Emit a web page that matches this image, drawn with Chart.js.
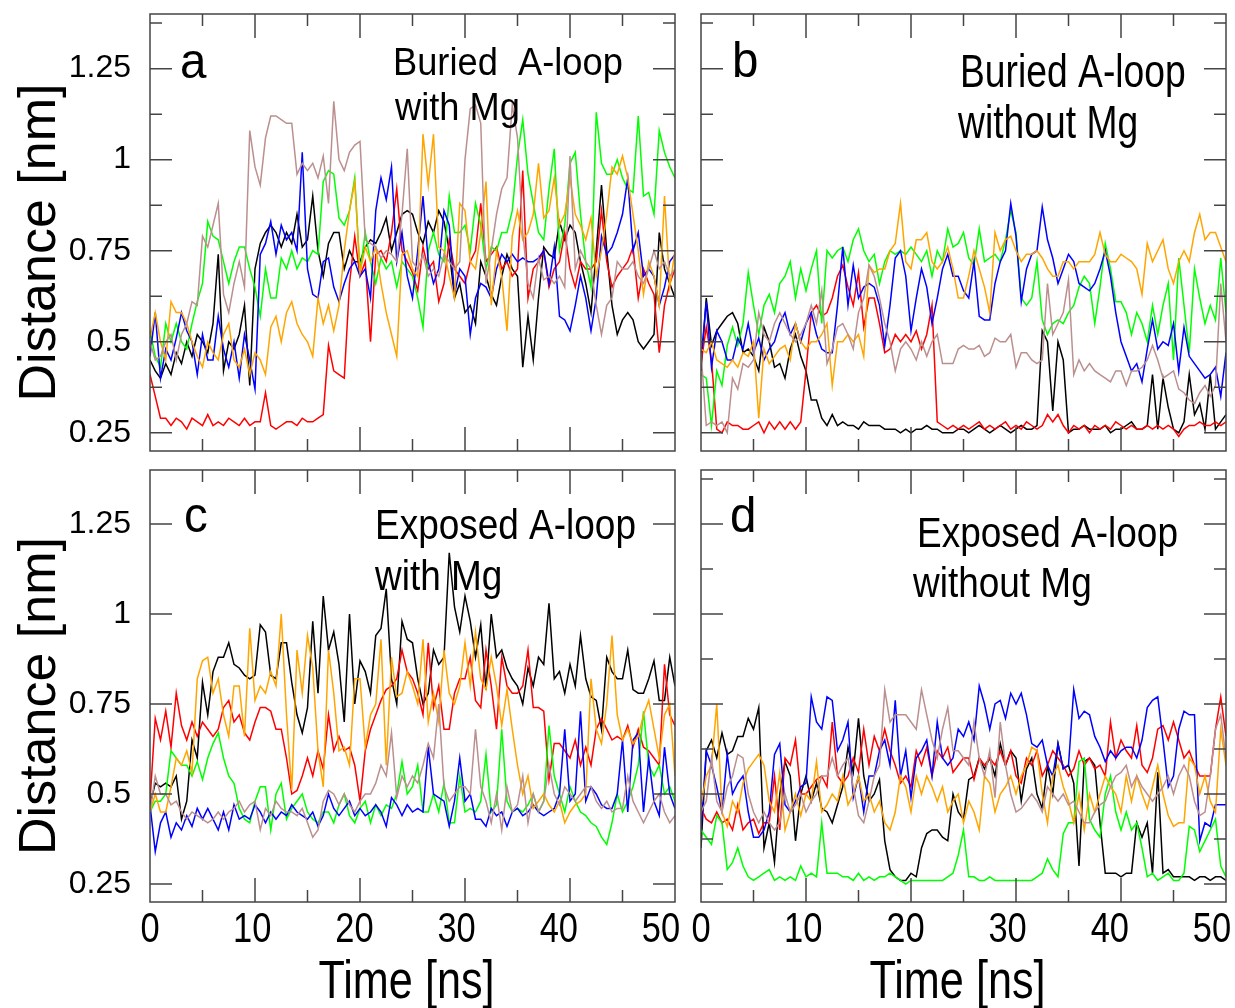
<!DOCTYPE html>
<html>
<head>
<meta charset="utf-8">
<script src="https://cdn.jsdelivr.net/npm/chart.js@4.4.1/dist/chart.umd.min.js"></script>
<style>
  html, body { margin: 0; padding: 0; background: #fff; }
  #wrap { position: relative; width: 1235px; height: 1008px; overflow: hidden; }
  canvas { position: absolute; }
</style>
</head>
<body>
<div id="wrap">
  <canvas id="panelA" width="700" height="460" style="left:0;top:0"></canvas>
  <canvas id="panelB" width="555" height="460" style="left:680px;top:0"></canvas>
  <canvas id="panelC" width="700" height="548" style="left:0;top:460px"></canvas>
  <canvas id="panelD" width="555" height="548" style="left:680px;top:460px"></canvas>
</div>
<script>
// time axis, ns (one sample every 0.5 ns)
const timeNs = [0, 0.5, 1, 1.5, 2, 2.5, 3, 3.5, 4, 4.5,
  5, 5.5, 6, 6.5, 7, 7.5, 8, 8.5, 9, 9.5,
  10, 10.5, 11, 11.5, 12, 12.5, 13, 13.5, 14, 14.5,
  15, 15.5, 16, 16.5, 17, 17.5, 18, 18.5, 19, 19.5,
  20, 20.5, 21, 21.5, 22, 22.5, 23, 23.5, 24, 24.5,
  25, 25.5, 26, 26.5, 27, 27.5, 28, 28.5, 29, 29.5,
  30, 30.5, 31, 31.5, 32, 32.5, 33, 33.5, 34, 34.5,
  35, 35.5, 36, 36.5, 37, 37.5, 38, 38.5, 39, 39.5,
  40, 40.5, 41, 41.5, 42, 42.5, 43, 43.5, 44, 44.5,
  45, 45.5, 46, 46.5, 47, 47.5, 48, 48.5, 49, 49.5,
  50];

const xMajor = [0, 10, 20, 30, 40, 50];
const xMinor = [5, 15, 25, 35, 45];
const yMajor = [0.25, 0.5, 0.75, 1, 1.25];
const yMinor = [0.375, 0.625, 0.875, 1.125, 1.375];

// panel a: buried A-loop with Mg
const aBlack = [0.45, 0.42, 0.40, 0.44, 0.41, 0.47, 0.44, 0.50, 0.46, 0.52,
  0.50, 0.47, 0.55, 0.74, 0.42, 0.50, 0.48, 0.52, 0.60, 0.38,
  0.70, 0.77, 0.80, 0.82, 0.80, 0.76, 0.80, 0.77, 0.85, 0.76,
  0.78, 0.90, 0.75, 0.68, 0.77, 0.80, 0.80, 0.70, 0.75, 0.72,
  0.72, 0.76, 0.78, 0.77, 0.80, 0.84, 0.75, 0.80, 0.85, 0.86,
  0.85, 0.80, 0.77, 0.83, 0.80, 0.86, 0.83, 0.75, 0.62, 0.66,
  0.58, 0.60, 0.55, 0.72, 0.68, 0.63, 0.60, 0.68, 0.74, 0.70,
  0.68, 0.43, 0.57, 0.45, 0.62, 0.76, 0.74, 0.73, 0.83, 0.78,
  0.82, 0.80, 0.72, 0.66, 0.58, 0.75, 0.93, 0.75, 0.60, 0.52,
  0.56, 0.58, 0.56, 0.50, 0.48, 0.50, 0.52, 0.80, 0.70, 0.66,
  0.62];
const aRed = [0.41, 0.35, 0.29, 0.29, 0.27, 0.29, 0.28, 0.26, 0.29, 0.28,
  0.27, 0.30, 0.27, 0.28, 0.27, 0.29, 0.28, 0.27, 0.29, 0.27,
  0.28, 0.28, 0.36, 0.27, 0.26, 0.27, 0.28, 0.28, 0.27, 0.29,
  0.28, 0.28, 0.29, 0.30, 0.49, 0.42, 0.41, 0.40, 0.66, 0.79,
  0.68, 0.72, 0.50, 0.74, 0.75, 0.72, 0.80, 0.92, 0.75, 0.72,
  0.69, 0.64, 0.76, 0.70, 0.72, 0.61, 0.66, 0.78, 0.70, 0.68,
  0.66, 0.72, 0.75, 0.88, 0.72, 0.74, 0.76, 0.70, 0.72, 0.68,
  0.70, 0.97, 0.62, 0.70, 0.72, 0.75, 0.65, 0.70, 0.72, 0.80,
  0.70, 0.65, 0.72, 0.70, 0.70, 0.72, 0.86, 0.72, 0.65, 0.68,
  0.70, 0.72, 0.76, 0.62, 0.70, 0.66, 0.63, 0.47, 0.60, 0.66,
  0.70];
const aGreen = [0.53, 0.46, 0.43, 0.55, 0.50, 0.55, 0.50, 0.48, 0.55, 0.61,
  0.66, 0.83, 0.79, 0.78, 0.72, 0.66, 0.72, 0.76, 0.76, 0.70,
  0.65, 0.57, 0.70, 0.62, 0.62, 0.73, 0.70, 0.75, 0.70, 0.73,
  0.72, 0.75, 0.74, 0.94, 0.97, 0.96, 0.84, 0.82, 0.86, 0.95,
  0.69, 0.80, 0.72, 0.66, 0.73, 0.70, 0.72, 0.65, 0.72, 0.70,
  0.68, 0.62, 0.54, 0.75, 0.80, 0.74, 0.72, 0.90, 0.80, 0.80,
  0.82, 0.75, 0.88, 0.82, 0.70, 0.76, 0.75, 0.80, 0.80, 0.86,
  1.01, 1.11, 0.96, 0.88, 0.80, 0.78, 0.92, 1.03, 0.75, 0.82,
  0.99, 1.02, 0.85, 0.72, 0.65, 1.13, 0.99, 0.96, 0.96, 1.00,
  0.95, 0.92, 0.91, 1.12, 0.90, 0.91, 0.85, 1.08, 1.02, 0.98,
  0.95];
const aBlue = [0.46, 0.58, 0.40, 0.48, 0.45, 0.51, 0.58, 0.53, 0.50, 0.41,
  0.52, 0.45, 0.45, 0.57, 0.48, 0.43, 0.50, 0.40, 0.52, 0.45,
  0.37, 0.74, 0.77, 0.83, 0.74, 0.82, 0.78, 0.80, 0.75, 1.02,
  0.70, 0.63, 0.62, 0.72, 0.73, 0.65, 0.61, 0.66, 0.70, 0.72,
  0.68, 0.70, 0.62, 0.86, 0.95, 0.89, 0.98, 0.72, 0.80, 0.68,
  0.62, 0.75, 0.90, 0.72, 0.66, 0.70, 0.86, 0.82, 0.63, 0.70,
  0.68, 0.52, 0.62, 0.66, 0.65, 0.62, 0.70, 0.74, 0.72, 0.74,
  0.72, 0.73, 0.72, 0.72, 0.73, 0.75, 0.66, 0.76, 0.57, 0.56,
  0.53, 0.60, 0.68, 0.62, 0.53, 0.62, 0.79, 0.74, 0.76, 0.80,
  0.85, 0.95, 0.75, 0.80, 0.68, 0.70, 0.68, 0.60, 0.65, 0.72,
  0.74];
const aOrange = [0.51, 0.58, 0.50, 0.45, 0.61, 0.58, 0.58, 0.55, 0.50, 0.46,
  0.43, 0.50, 0.47, 0.45, 0.52, 0.55, 0.45, 0.43, 0.48, 0.41,
  0.47, 0.45, 0.41, 0.54, 0.57, 0.50, 0.58, 0.61, 0.55, 0.52,
  0.50, 0.46, 0.62, 0.55, 0.60, 0.53, 0.60, 0.75, 0.86, 0.94,
  0.69, 0.76, 0.72, 0.76, 0.66, 0.58, 0.52, 0.46, 0.74, 0.75,
  0.70, 0.68, 1.07, 0.93, 1.07, 0.76, 0.75, 0.68, 0.62, 0.88,
  0.86, 0.72, 0.70, 0.80, 0.94, 0.60, 0.75, 0.68, 0.53, 0.79,
  0.86, 0.78, 0.80, 0.85, 0.99, 0.84, 0.86, 0.95, 0.82, 0.85,
  0.95, 0.85, 0.82, 0.78, 0.84, 0.68, 0.75, 0.85, 0.98, 0.96,
  1.01, 0.95, 0.85, 0.75, 0.63, 0.72, 0.68, 0.60, 0.90, 0.65,
  0.75];
const aBrown = [0.50, 0.45, 0.46, 0.50, 0.52, 0.45, 0.52, 0.55, 0.61, 0.60,
  0.79, 0.76, 0.82, 0.88, 0.63, 0.58, 0.66, 0.72, 0.65, 1.08,
  0.98, 0.93, 1.06, 1.12, 1.12, 1.11, 1.10, 1.10, 0.96, 0.99,
  0.97, 0.99, 0.95, 1.01, 0.88, 1.16, 1.00, 0.97, 1.02, 1.04,
  1.05, 0.78, 0.77, 0.76, 0.73, 0.75, 0.74, 0.72, 0.85, 1.03,
  0.72, 0.70, 0.74, 0.68, 0.70, 0.68, 0.74, 0.72, 0.70, 0.72,
  1.00, 1.14, 1.15, 1.10, 0.66, 0.75, 0.85, 0.92, 0.95, 1.15,
  1.06, 0.80, 0.66, 0.62, 0.73, 0.67, 0.68, 0.66, 0.68, 0.65,
  1.01, 0.70, 0.75, 0.72, 0.70, 0.60, 0.52, 0.60, 0.62, 0.72,
  0.70, 0.70, 0.72, 0.68, 0.66, 0.70, 0.75, 0.70, 0.72, 0.68,
  0.70];

// panel b: buried A-loop without Mg
const bBlack = [0.42, 0.62, 0.49, 0.53, 0.55, 0.57, 0.58, 0.55, 0.47, 0.48,
  0.46, 0.42, 0.54, 0.50, 0.43, 0.44, 0.40, 0.48, 0.52, 0.46,
  0.42, 0.34, 0.34, 0.29, 0.27, 0.30, 0.27, 0.28, 0.27, 0.27,
  0.26, 0.28, 0.27, 0.27, 0.27, 0.26, 0.26, 0.26, 0.25, 0.26,
  0.25, 0.26, 0.26, 0.27, 0.26, 0.26, 0.25, 0.25, 0.25, 0.26,
  0.26, 0.25, 0.26, 0.27, 0.26, 0.25, 0.26, 0.27, 0.26, 0.25,
  0.26, 0.27, 0.26, 0.26, 0.27, 0.53, 0.50, 0.31, 0.50, 0.45,
  0.25, 0.26, 0.26, 0.27, 0.26, 0.26, 0.26, 0.27, 0.25, 0.26,
  0.26, 0.27, 0.28, 0.26, 0.26, 0.27, 0.41, 0.26, 0.40, 0.32,
  0.26, 0.25, 0.28, 0.41, 0.30, 0.33, 0.26, 0.41, 0.26, 0.28,
  0.30];
const bRed = [0.44, 0.54, 0.45, 0.26, 0.25, 0.28, 0.27, 0.27, 0.26, 0.26,
  0.27, 0.28, 0.25, 0.28, 0.26, 0.28, 0.26, 0.28, 0.26, 0.28,
  0.42, 0.58, 0.60, 0.57, 0.58, 0.62, 0.68, 0.71, 0.65, 0.60,
  0.69, 0.54, 0.62, 0.62, 0.55, 0.47, 0.48, 0.52, 0.50, 0.52,
  0.50, 0.53, 0.48, 0.52, 0.60, 0.28, 0.27, 0.26, 0.27, 0.26,
  0.27, 0.26, 0.27, 0.28, 0.26, 0.27, 0.26, 0.27, 0.28, 0.26,
  0.27, 0.26, 0.28, 0.27, 0.26, 0.27, 0.30, 0.28, 0.30, 0.27,
  0.25, 0.27, 0.26, 0.27, 0.25, 0.27, 0.26, 0.27, 0.26, 0.28,
  0.27, 0.26, 0.27, 0.26, 0.26, 0.27, 0.26, 0.27, 0.26, 0.27,
  0.26, 0.24, 0.26, 0.27, 0.27, 0.28, 0.27, 0.27, 0.28, 0.27,
  0.28];
const bGreen = [0.41, 0.40, 0.27, 0.42, 0.38, 0.49, 0.54, 0.49, 0.55, 0.69,
  0.60, 0.52, 0.60, 0.63, 0.58, 0.66, 0.68, 0.72, 0.62, 0.70,
  0.64, 0.70, 0.75, 0.55, 0.75, 0.73, 0.75, 0.76, 0.72, 0.78,
  0.81, 0.75, 0.72, 0.74, 0.66, 0.72, 0.75, 0.74, 0.75, 0.74,
  0.76, 0.74, 0.72, 0.75, 0.68, 0.75, 0.72, 0.81, 0.76, 0.77,
  0.80, 0.73, 0.71, 0.81, 0.72, 0.73, 0.74, 0.72, 0.78, 0.86,
  0.80, 0.62, 0.60, 0.62, 0.72, 0.56, 0.52, 0.55, 0.56, 0.55,
  0.58, 0.60, 0.65, 0.68, 0.66, 0.55, 0.65, 0.77, 0.70, 0.61,
  0.61, 0.58, 0.52, 0.58, 0.55, 0.50, 0.60, 0.52, 0.60, 0.66,
  0.45, 0.73, 0.60, 0.47, 0.70, 0.62, 0.55, 0.60, 0.56, 0.73,
  0.58];
const bBlue = [0.45, 0.61, 0.43, 0.53, 0.50, 0.45, 0.45, 0.51, 0.48, 0.55,
  0.47, 0.51, 0.45, 0.48, 0.50, 0.55, 0.58, 0.52, 0.55, 0.50,
  0.55, 0.58, 0.52, 0.48, 0.47, 0.47, 0.60, 0.76, 0.60, 0.71,
  0.62, 0.65, 0.66, 0.65, 0.60, 0.49, 0.60, 0.73, 0.75, 0.68,
  0.53, 0.62, 0.70, 0.65, 0.55, 0.62, 0.70, 0.74, 0.68, 0.68,
  0.64, 0.62, 0.72, 0.57, 0.56, 0.56, 0.66, 0.72, 0.75, 0.88,
  0.79, 0.61, 0.70, 0.74, 0.75, 0.87, 0.78, 0.73, 0.66, 0.70,
  0.74, 0.72, 0.66, 0.65, 0.64, 0.66, 0.70, 0.75, 0.68, 0.58,
  0.50, 0.46, 0.42, 0.44, 0.39, 0.48, 0.56, 0.48, 0.50, 0.49,
  0.55, 0.42, 0.54, 0.46, 0.44, 0.42, 0.40, 0.41, 0.43, 0.35,
  0.47];
const bOrange = [0.48, 0.47, 0.50, 0.45, 0.44, 0.43, 0.45, 0.43, 0.47, 0.46,
  0.50, 0.29, 0.48, 0.44, 0.46, 0.48, 0.49, 0.45, 0.55, 0.50,
  0.48, 0.50, 0.50, 0.52, 0.55, 0.38, 0.50, 0.50, 0.52, 0.50,
  0.52, 0.46, 0.71, 0.69, 0.70, 0.70, 0.75, 0.77, 0.88, 0.72,
  0.70, 0.78, 0.78, 0.80, 0.72, 0.70, 0.72, 0.76, 0.70, 0.62,
  0.62, 0.68, 0.75, 0.70, 0.65, 0.58, 0.80, 0.75, 0.78, 0.79,
  0.75, 0.72, 0.74, 0.74, 0.75, 0.73, 0.70, 0.68, 0.68, 0.72,
  0.72, 0.70, 0.72, 0.72, 0.72, 0.74, 0.80, 0.74, 0.72, 0.72,
  0.74, 0.73, 0.72, 0.70, 0.63, 0.77, 0.72, 0.75, 0.78, 0.70,
  0.66, 0.72, 0.75, 0.72, 0.80, 0.85, 0.78, 0.80, 0.80, 0.76,
  0.72];
const bBrown = [0.47, 0.27, 0.28, 0.27, 0.28, 0.25, 0.40, 0.37, 0.44, 0.43,
  0.45, 0.58, 0.52, 0.50, 0.55, 0.58, 0.55, 0.52, 0.50, 0.52,
  0.55, 0.60, 0.55, 0.64, 0.44, 0.48, 0.54, 0.55, 0.52, 0.48,
  0.58, 0.62, 0.71, 0.68, 0.62, 0.55, 0.50, 0.42, 0.48, 0.50,
  0.48, 0.45, 0.50, 0.46, 0.50, 0.52, 0.44, 0.44, 0.44, 0.48,
  0.49, 0.48, 0.48, 0.49, 0.46, 0.47, 0.51, 0.50, 0.50, 0.52,
  0.43, 0.47, 0.47, 0.45, 0.44, 0.45, 0.66, 0.52, 0.55, 0.58,
  0.67, 0.41, 0.45, 0.42, 0.44, 0.42, 0.41, 0.40, 0.39, 0.42,
  0.42, 0.38, 0.42, 0.42, 0.43, 0.45, 0.49, 0.45, 0.40, 0.41,
  0.42, 0.37, 0.36, 0.34, 0.33, 0.36, 0.38, 0.35, 0.38, 0.66,
  0.50];

// panel c: exposed A-loop with Mg
const cBlack = [0.47, 0.53, 0.52, 0.53, 0.52, 0.55, 0.43, 0.48, 0.65, 0.60,
  0.81, 0.72, 0.84, 0.88, 0.88, 0.92, 0.86, 0.85, 0.83, 0.82,
  0.83, 0.97, 0.95, 0.83, 0.82, 0.92, 0.92, 0.81, 0.72, 0.67,
  0.74, 0.98, 0.78, 1.05, 0.90, 0.95, 0.86, 0.70, 1.00, 0.75,
  0.87, 0.84, 0.78, 0.94, 0.96, 1.07, 0.82, 0.75, 0.98, 0.93,
  0.92, 0.82, 0.75, 0.78, 0.90, 0.86, 0.88, 1.17, 1.02, 0.95,
  1.05, 0.98, 0.88, 0.97, 0.79, 1.00, 0.88, 0.90, 0.85, 0.82,
  0.80, 0.75, 0.85, 0.80, 0.88, 0.86, 1.03, 0.82, 0.84, 0.78,
  0.86, 0.80, 0.94, 0.82, 0.77, 0.76, 0.68, 0.88, 0.84, 0.82,
  0.82, 0.90, 0.79, 0.78, 0.78, 0.82, 0.87, 0.76, 0.76, 0.88,
  0.80];
const cRed = [0.48, 0.71, 0.65, 0.73, 0.63, 0.78, 0.69, 0.65, 0.70, 0.66,
  0.70, 0.68, 0.66, 0.68, 0.74, 0.76, 0.70, 0.72, 0.67, 0.65,
  0.70, 0.74, 0.74, 0.73, 0.68, 0.68, 0.60, 0.50, 0.51, 0.55,
  0.60, 0.55, 0.62, 0.57, 0.72, 0.62, 0.66, 0.62, 0.63, 0.58,
  0.48, 0.62, 0.68, 0.72, 0.76, 0.79, 0.80, 0.82, 0.90, 0.84,
  0.82, 0.78, 0.72, 0.92, 0.74, 0.80, 0.68, 0.68, 0.78, 0.82,
  0.82, 0.88, 0.76, 0.74, 0.90, 0.80, 0.68, 0.88, 0.80, 0.78,
  0.78, 0.80, 0.90, 0.74, 0.74, 0.73, 0.54, 0.64, 0.64, 0.62,
  0.60, 0.65, 0.58, 0.63, 0.58, 0.68, 0.71, 0.68, 0.65, 0.66,
  0.65, 0.69, 0.63, 0.68, 0.63, 0.62, 0.60, 0.58, 0.86, 0.72,
  0.69];
const cGreen = [0.45, 0.48, 0.48, 0.50, 0.62, 0.60, 0.58, 0.58, 0.55, 0.59,
  0.54, 0.60, 0.64, 0.67, 0.60, 0.55, 0.53, 0.46, 0.43, 0.42,
  0.48, 0.52, 0.52, 0.40, 0.50, 0.53, 0.43, 0.46, 0.48, 0.50,
  0.45, 0.43, 0.42, 0.45, 0.45, 0.42, 0.47, 0.50, 0.44, 0.42,
  0.46, 0.48, 0.42, 0.47, 0.44, 0.47, 0.46, 0.50, 0.59, 0.50,
  0.52, 0.58, 0.45, 0.45, 0.50, 0.45, 0.53, 0.42, 0.42, 0.55,
  0.45, 0.46, 0.45, 0.48, 0.61, 0.45, 0.47, 0.68, 0.48, 0.45,
  0.46, 0.45, 0.47, 0.50, 0.45, 0.48, 0.69, 0.55, 0.50, 0.45,
  0.52, 0.48, 0.45, 0.44, 0.42, 0.41, 0.38, 0.36, 0.42, 0.50,
  0.45, 0.48, 0.52, 0.58, 0.73, 0.58, 0.55, 0.58, 0.50, 0.52,
  0.48];
const cBlue = [0.47, 0.34, 0.42, 0.45, 0.38, 0.42, 0.40, 0.44, 0.41, 0.46,
  0.43, 0.46, 0.43, 0.40, 0.45, 0.40, 0.47, 0.43, 0.44, 0.43,
  0.47, 0.45, 0.42, 0.45, 0.43, 0.45, 0.44, 0.47, 0.45, 0.44,
  0.43, 0.45, 0.41, 0.44, 0.50, 0.46, 0.44, 0.46, 0.48, 0.44,
  0.46, 0.44, 0.45, 0.47, 0.45, 0.41, 0.49, 0.47, 0.44, 0.47,
  0.45, 0.46, 0.45, 0.63, 0.50, 0.49, 0.48, 0.41, 0.48, 0.60,
  0.48, 0.50, 0.43, 0.43, 0.41, 0.46, 0.44, 0.45, 0.41, 0.45,
  0.46, 0.44, 0.45, 0.47, 0.45, 0.44, 0.45, 0.46, 0.50, 0.68,
  0.48, 0.50, 0.73, 0.48, 0.52, 0.50, 0.47, 0.46, 0.46, 0.50,
  0.65, 0.45, 0.65, 0.67, 0.45, 0.60, 0.48, 0.44, 0.63, 0.50,
  0.46];
const cOrange = [0.45, 0.50, 0.45, 0.45, 0.52, 0.60, 0.58, 0.62, 0.56, 0.82,
  0.87, 0.88, 0.78, 0.82, 0.72, 0.66, 0.80, 0.80, 0.66, 0.96,
  0.76, 0.80, 0.78, 0.84, 0.80, 1.00, 0.72, 0.51, 0.90, 0.78,
  0.94, 0.85, 0.62, 0.52, 0.90, 0.78, 0.62, 0.63, 0.58, 0.82,
  0.82, 0.63, 0.72, 0.75, 0.93, 0.58, 0.88, 0.77, 0.78, 0.84,
  0.80, 0.75, 0.93, 0.70, 0.78, 0.70, 0.90, 0.78, 0.75, 0.80,
  0.92, 0.80, 0.95, 0.82, 0.79, 0.88, 0.80, 0.69, 0.79, 0.68,
  0.58, 0.50, 0.55, 0.46, 0.48, 0.50, 0.47, 0.45, 0.48, 0.42,
  0.45, 0.47, 0.48, 0.50, 0.82, 0.68, 0.64, 0.75, 0.94, 0.72,
  0.65, 0.68, 0.64, 0.66, 0.72, 0.76, 0.68, 0.60, 0.72, 0.75,
  0.55];
const cBrown = [0.45, 0.55, 0.50, 0.50, 0.47, 0.48, 0.45, 0.43, 0.45, 0.44,
  0.43, 0.42, 0.43, 0.45, 0.43, 0.45, 0.46, 0.48, 0.45, 0.47,
  0.48, 0.40, 0.46, 0.44, 0.48, 0.46, 0.45, 0.45, 0.44, 0.46,
  0.42, 0.38, 0.40, 0.48, 0.51, 0.50, 0.47, 0.50, 0.47, 0.45,
  0.48, 0.50, 0.50, 0.53, 0.58, 0.55, 0.67, 0.49, 0.55, 0.52,
  0.55, 0.53, 0.58, 0.64, 0.60, 0.75, 0.52, 0.48, 0.50, 0.52,
  0.52, 0.50, 0.68, 0.52, 0.48, 0.42, 0.50, 0.40, 0.52, 0.45,
  0.47, 0.55, 0.42, 0.50, 0.45, 0.48, 0.58, 0.50, 0.47, 0.52,
  0.50, 0.48, 0.50, 0.52, 0.52, 0.48, 0.46, 0.48, 0.45, 0.46,
  0.46, 0.55, 0.48, 0.45, 0.42, 0.45, 0.48, 0.50, 0.45, 0.42,
  0.44];

// panel d: exposed A-loop without Mg
const dBlack = [0.35, 0.62, 0.65, 0.60, 0.67, 0.61, 0.62, 0.66, 0.66, 0.71,
  0.68, 0.74, 0.35, 0.42, 0.31, 0.50, 0.59, 0.55, 0.37, 0.50,
  0.55, 0.48, 0.53, 0.46, 0.45, 0.42, 0.47, 0.52, 0.63, 0.56,
  0.71, 0.55, 0.48, 0.50, 0.54, 0.37, 0.29, 0.27, 0.26, 0.26,
  0.28, 0.27, 0.35, 0.39, 0.40, 0.40, 0.38, 0.37, 0.50, 0.45,
  0.43, 0.54, 0.55, 0.60, 0.57, 0.60, 0.55, 0.64, 0.58, 0.62,
  0.60, 0.48, 0.57, 0.60, 0.50, 0.46, 0.58, 0.50, 0.64, 0.57,
  0.58, 0.53, 0.30, 0.59, 0.60, 0.58, 0.42, 0.28, 0.28, 0.28,
  0.27, 0.28, 0.28, 0.42, 0.38, 0.42, 0.28, 0.56, 0.28, 0.29,
  0.27, 0.27, 0.27, 0.27, 0.26, 0.27, 0.27, 0.26, 0.27, 0.27,
  0.26];
const dRed = [0.46, 0.43, 0.42, 0.45, 0.42, 0.43, 0.40, 0.47, 0.40, 0.42,
  0.43, 0.39, 0.42, 0.42, 0.55, 0.40, 0.60, 0.58, 0.65, 0.50,
  0.50, 0.52, 0.54, 0.55, 0.52, 0.70, 0.55, 0.53, 0.55, 0.60,
  0.56, 0.68, 0.58, 0.66, 0.62, 0.68, 0.62, 0.58, 0.53, 0.55,
  0.52, 0.62, 0.58, 0.63, 0.55, 0.62, 0.60, 0.63, 0.56, 0.58,
  0.60, 0.60, 0.54, 0.60, 0.58, 0.60, 0.58, 0.62, 0.58, 0.62,
  0.55, 0.53, 0.60, 0.58, 0.62, 0.55, 0.58, 0.62, 0.60, 0.58,
  0.55, 0.57, 0.62, 0.58, 0.60, 0.57, 0.58, 0.55, 0.70, 0.60,
  0.65, 0.62, 0.60, 0.69, 0.58, 0.56, 0.60, 0.68, 0.69, 0.65,
  0.70, 0.65, 0.60, 0.62, 0.58, 0.55, 0.55, 0.55, 0.68, 0.77,
  0.66];
const dGreen = [0.40, 0.38, 0.36, 0.44, 0.42, 0.29, 0.31, 0.35, 0.30, 0.27,
  0.26, 0.27, 0.28, 0.29, 0.26, 0.27, 0.26, 0.27, 0.26, 0.30,
  0.27, 0.28, 0.27, 0.42, 0.28, 0.28, 0.28, 0.27, 0.27, 0.26,
  0.28, 0.26, 0.27, 0.26, 0.27, 0.27, 0.28, 0.27, 0.26, 0.25,
  0.26, 0.26, 0.26, 0.26, 0.26, 0.26, 0.26, 0.27, 0.28, 0.33,
  0.40, 0.27, 0.27, 0.26, 0.26, 0.27, 0.26, 0.26, 0.26, 0.26,
  0.26, 0.26, 0.26, 0.26, 0.27, 0.28, 0.32, 0.29, 0.27, 0.39,
  0.42, 0.42, 0.59, 0.60, 0.43, 0.40, 0.38, 0.50, 0.55, 0.45,
  0.40, 0.45, 0.40, 0.42, 0.35, 0.27, 0.28, 0.26, 0.27, 0.28,
  0.26, 0.26, 0.28, 0.41, 0.40, 0.34, 0.37, 0.40, 0.43, 0.30,
  0.27];
const dBlue = [0.40, 0.62, 0.58, 0.52, 0.45, 0.61, 0.50, 0.53, 0.55, 0.45,
  0.38, 0.38, 0.40, 0.45, 0.61, 0.64, 0.47, 0.45, 0.48, 0.52,
  0.53, 0.77, 0.70, 0.68, 0.77, 0.76, 0.62, 0.65, 0.70, 0.49,
  0.55, 0.45, 0.55, 0.55, 0.62, 0.65, 0.58, 0.76, 0.55, 0.62,
  0.49, 0.60, 0.62, 0.65, 0.55, 0.70, 0.60, 0.58, 0.60, 0.68,
  0.66, 0.70, 0.65, 0.80, 0.75, 0.68, 0.75, 0.76, 0.71, 0.78,
  0.75, 0.78, 0.72, 0.64, 0.63, 0.65, 0.58, 0.55, 0.64, 0.57,
  0.58, 0.79, 0.71, 0.73, 0.72, 0.66, 0.63, 0.59, 0.62, 0.60,
  0.62, 0.63, 0.63, 0.60, 0.65, 0.74, 0.76, 0.77, 0.65, 0.52,
  0.55, 0.68, 0.73, 0.72, 0.72, 0.37, 0.42, 0.41, 0.47, 0.47,
  0.47];
const dOrange = [0.47, 0.55, 0.58, 0.75, 0.45, 0.41, 0.48, 0.45, 0.53, 0.57,
  0.59, 0.61, 0.58, 0.48, 0.45, 0.56, 0.40, 0.45, 0.50, 0.44,
  0.50, 0.48, 0.59, 0.45, 0.47, 0.50, 0.48, 0.55, 0.47, 0.50,
  0.55, 0.48, 0.50, 0.45, 0.48, 0.42, 0.40, 0.45, 0.55, 0.52,
  0.45, 0.55, 0.50, 0.55, 0.52, 0.48, 0.52, 0.45, 0.48, 0.50,
  0.42, 0.48, 0.45, 0.40, 0.55, 0.53, 0.45, 0.50, 0.52, 0.55,
  0.50, 0.55, 0.58, 0.63, 0.62, 0.50, 0.42, 0.55, 0.58, 0.52,
  0.48, 0.42, 0.50, 0.40, 0.50, 0.45, 0.50, 0.55, 0.52, 0.50,
  0.45, 0.55, 0.48, 0.55, 0.50, 0.46, 0.52, 0.58, 0.50, 0.44,
  0.41, 0.42, 0.42, 0.60, 0.58, 0.50, 0.55, 0.48, 0.45, 0.68,
  0.58];
const dBrown = [0.45, 0.48, 0.60, 0.48, 0.45, 0.52, 0.55, 0.61, 0.60, 0.50,
  0.45, 0.42, 0.45, 0.42, 0.40, 0.42, 0.50, 0.45, 0.47, 0.50,
  0.45, 0.48, 0.50, 0.55, 0.55, 0.60, 0.55, 0.58, 0.60, 0.52,
  0.44, 0.42, 0.48, 0.55, 0.58, 0.79, 0.70, 0.72, 0.72, 0.72,
  0.70, 0.68, 0.79, 0.72, 0.65, 0.60, 0.68, 0.74, 0.62, 0.62,
  0.60, 0.58, 0.70, 0.60, 0.55, 0.62, 0.49, 0.70, 0.58, 0.50,
  0.45, 0.46, 0.48, 0.50, 0.48, 0.45, 0.52, 0.50, 0.48, 0.50,
  0.47, 0.48, 0.45, 0.42, 0.42, 0.45, 0.47, 0.48, 0.52, 0.55,
  0.56, 0.58, 0.52, 0.55, 0.52, 0.50, 0.48, 0.50, 0.52, 0.55,
  0.50, 0.55, 0.58, 0.55, 0.48, 0.44, 0.45, 0.55, 0.68, 0.72,
  0.60];

// black, red, green, blue, orange, rosy brown (last one drawn on top)
const seriesColors = ['#000000', '#ff0000', '#00ff00', '#0000ff', '#ffa500', '#bc8f8f'];

const sansFamily = "'Liberation Sans', Arial, sans-serif";

// squeezed text helper: the original uses a condensed face on the x axis
function drawText(ctx, text, x, y, size, sx, align, rotate) {
  ctx.save();
  ctx.font = size + 'px ' + sansFamily;
  ctx.textAlign = align;
  ctx.textBaseline = 'alphabetic';
  ctx.translate(x, y);
  if (rotate) ctx.rotate(-Math.PI / 2);
  ctx.scale(sx, 1);
  ctx.fillText(text, 0, 0);
  ctx.restore();
}

// frame, inward ticks, x labels, axis titles and the panel texts
const frameTicks = {
  id: 'frameTicks',
  afterDatasetsDraw(chart, args, opts) {
    const { ctx, chartArea: area } = chart;
    const xs = chart.scales.x, ys = chart.scales.y;
    ctx.save();
    ctx.strokeStyle = '#444';
    ctx.lineWidth = 1.5;
    ctx.beginPath();
    const seg = (px, py, dx, dy) => { ctx.moveTo(px, py); ctx.lineTo(px + dx, py + dy); };
    xMajor.forEach(v => { const p = xs.getPixelForValue(v); seg(p, area.bottom, 0, -24); seg(p, area.top, 0, 24); });
    xMinor.forEach(v => { const p = xs.getPixelForValue(v); seg(p, area.bottom, 0, -12); seg(p, area.top, 0, 12); });
    yMajor.forEach(v => { const p = ys.getPixelForValue(v); seg(area.left, p, 22, 0); seg(area.right, p, -22, 0); });
    if (opts.minorY) {
      yMinor.forEach(v => { const p = ys.getPixelForValue(v); seg(area.left, p, 12, 0); seg(area.right, p, -12, 0); });
    }
    ctx.rect(area.left, area.top, area.right - area.left, area.bottom - area.top);
    ctx.stroke();
    ctx.fillStyle = '#000';

    if (opts.xLabels) {
      xMajor.forEach(v => {
        drawText(ctx, String(v), xs.getPixelForValue(v) - 0.28 * v, area.bottom + 40, 42, 0.82, 'center');
      });
      drawText(ctx, 'Time [ns]', (area.left + area.right) / 2 - 6, area.bottom + 96, 54, 0.8, 'center');
    }
    if (opts.yTitle) {
      drawText(ctx, 'Distance [nm]', 55, (area.top + area.bottom) / 2 + 10, 52, 1, 'center', true);
    }

    (opts.notes || []).forEach(n => drawText(ctx, n.text, n.x, n.y, n.size, n.sx, 'left'));
    ctx.restore();
  }
};

function makePanel(canvasId, series, cfg) {
  const datasets = series.map((vals, i) => ({
    data: vals.map((v, k) => ({ x: timeNs[k], y: v })),
    borderColor: seriesColors[i],
    borderWidth: 1.5,
    pointRadius: 0,
    fill: false,
    tension: 0,
    order: series.length - i
  }));

  return new Chart(document.getElementById(canvasId), {
    type: 'line',
    data: { datasets },
    plugins: [frameTicks],
    options: {
      responsive: false,
      animation: false,
      events: [],
      layout: { padding: cfg.padding, autoPadding: false },
      plugins: {
        legend: { display: false },
        tooltip: { enabled: false },
        frameTicks: { notes: cfg.notes, minorY: cfg.minorY, xLabels: cfg.xLabels, yTitle: cfg.yLabels }
      },
      scales: {
        x: {
          type: 'linear',
          min: 0,
          max: 50,
          grid: { display: false, drawTicks: false },
          border: { display: false },
          afterBuildTicks: s => { s.ticks = xMajor.map(v => ({ value: v })); },
          ticks: { display: false },
          afterFit: s => { s.height = cfg.xHeight; s.paddingLeft = 0; s.paddingRight = 0; }
        },
        y: {
          type: 'linear',
          min: 0.2,
          max: 1.4,
          grid: { display: false, drawTicks: false },
          border: { display: false },
          afterBuildTicks: s => { s.ticks = yMajor.map(v => ({ value: v })); },
          ticks: {
            display: cfg.yLabels,
            padding: 19,
            color: '#000',
            font: { family: sansFamily, size: 32 },
            callback: v => String(v)
          },
          afterFit: s => { s.width = cfg.yWidth; s.paddingTop = 0; s.paddingBottom = 0; }
        }
      }
    }
  });
}

makePanel('panelA', [aBlack, aRed, aGreen, aBlue, aOrange, aBrown], {
  padding: { top: 14, right: 25, bottom: 0, left: 0 },
  yWidth: 150, xHeight: 9, xLabels: false, yLabels: true, minorY: true,
  notes: [
    { text: 'a', x: 180, y: 78, size: 50, sx: 0.95 },
    { text: 'Buried  A-loop', x: 393, y: 75, size: 39, sx: 0.93 },
    { text: 'with Mg', x: 395, y: 120, size: 39, sx: 0.93 }
  ]
});
makePanel('panelB', [bBlack, bRed, bGreen, bBlue, bOrange, bBrown], {
  padding: { top: 14, right: 9, bottom: 0, left: 0 },
  yWidth: 21, xHeight: 9, xLabels: false, yLabels: false, minorY: true,
  notes: [
    { text: 'b', x: 52, y: 77, size: 50, sx: 0.95 },
    { text: 'Buried A-loop', x: 280, y: 87, size: 46, sx: 0.81 },
    { text: 'without Mg', x: 278, y: 138, size: 46, sx: 0.81 }
  ]
});
makePanel('panelC', [cBlack, cRed, cGreen, cBlue, cOrange, cBrown], {
  padding: { top: 10, right: 25, bottom: 0, left: 0 },
  yWidth: 150, xHeight: 106, xLabels: true, yLabels: true, minorY: false,
  notes: [
    { text: 'c', x: 184, y: 72, size: 50, sx: 0.95 },
    { text: 'Exposed A-loop', x: 375, y: 79, size: 42, sx: 0.88 },
    { text: 'with Mg', x: 375, y: 130, size: 42, sx: 0.88 }
  ]
});
makePanel('panelD', [dBlack, dRed, dGreen, dBlue, dOrange, dBrown], {
  padding: { top: 10, right: 9, bottom: 0, left: 0 },
  yWidth: 21, xHeight: 106, xLabels: true, yLabels: false, minorY: true,
  notes: [
    { text: 'd', x: 50, y: 72, size: 50, sx: 0.95 },
    { text: 'Exposed A-loop', x: 237, y: 87, size: 42, sx: 0.88 },
    { text: 'without Mg', x: 233, y: 137, size: 42, sx: 0.88 }
  ]
});
</script>
</body>
</html>
